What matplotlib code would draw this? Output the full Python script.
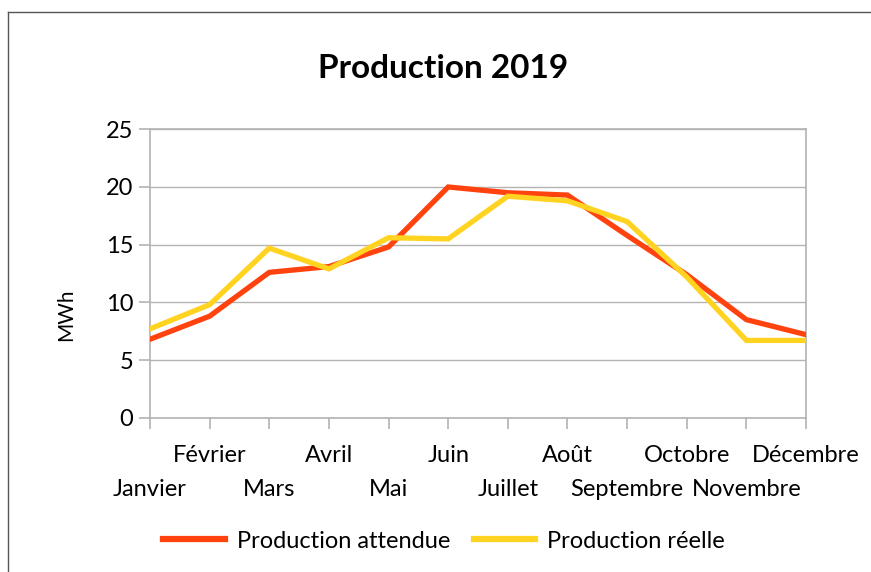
#! /usr/bin/env python3
import matplotlib
matplotlib.use("Agg")
import matplotlib.pyplot as plt
from matplotlib.lines import Line2D

# Data
months = ["Janvier", "Février", "Mars", "Avril", "Mai", "Juin",
          "Juillet", "Août", "Septembre", "Octobre", "Novembre", "Décembre"]
attendue = [6.8, 8.8, 12.6, 13.1, 14.8, 20.0, 19.5, 19.3, 15.8, 12.4, 8.5, 7.2]
reelle = [7.7, 9.8, 14.7, 12.9, 15.6, 15.5, 19.2, 18.8, 17.0, 12.2, 6.7, 6.7]
y_ticks = [0, 5, 10, 15, 20, 25]

RED = "#ff420e"
YELLOW = "#ffd320"
GRID = "#b3b3b3"


def plot_production():
    plt.rcParams["font.family"] = ["Lato", "DejaVu Sans"]
    fig = plt.figure(figsize=(8.71, 5.72), dpi=100)
    ax = fig.add_axes([150 / 871, 1 - 417.7 / 572, 656 / 871, 288.4 / 572])

    xs = list(range(len(months)))
    ax.plot(xs, attendue, color=RED, lw=3.8, solid_joinstyle="miter",
            label="Production attendue", zorder=3)
    ax.plot(xs, reelle, color=YELLOW, lw=3.8, solid_joinstyle="miter",
            label="Production réelle", zorder=4)

    ax.set_xlim(0, len(months) - 1)
    ax.set_ylim(0, 25)
    ax.set_yticks(y_ticks)
    ax.set_yticklabels([str(v) for v in y_ticks], fontsize=17)

    ax.set_xticks(xs)
    ax.set_xticklabels([""] * len(months))
    # staggered month labels, Janvier on the lower line
    for i, m in enumerate(months):
        off = 44 if i % 2 == 0 else 20
        ax.annotate(m, xy=(i, 0), xycoords=("data", "axes fraction"),
                    xytext=(0, -off), textcoords="offset points",
                    ha="center", va="top", fontsize=17)

    ax.grid(axis="y", color=GRID, lw=1)
    ax.set_axisbelow(True)
    for s in ax.spines.values():
        s.set_color(GRID)
        s.set_linewidth(1.2)
    ax.tick_params(axis="both", length=8, width=1.2, color=GRID, pad=4)

    fig.text(443 / 871, 1 - 68 / 572, "Production 2019", ha="center", va="center",
             fontsize=24, fontweight="bold")
    fig.text(66 / 871, 1 - 315 / 572, "MWh", ha="center", va="center",
             rotation=90, fontsize=15)

    # legend below the plot
    handles = [Line2D([], [], color=RED, lw=4.5), Line2D([], [], color=YELLOW, lw=4.5)]
    fig.legend(handles, ["Production attendue", "Production réelle"],
               loc="center", bbox_to_anchor=(444 / 871, 1 - 541 / 572),
               ncol=2, frameon=False, fontsize=17, handlelength=2.6,
               handletextpad=0.5, columnspacing=1.0)

    # border of the chart frame (top and left)
    fig.add_artist(Line2D([8 / 871, 1], [1 - 12 / 572, 1 - 12 / 572], color="#555555", lw=1))
    fig.add_artist(Line2D([8 / 871, 8 / 871], [0, 1 - 12 / 572], color="#555555", lw=1))

    fig.savefig("out.png", dpi=100)


def main():
    plot_production()


if __name__ == "__main__":
    main()
